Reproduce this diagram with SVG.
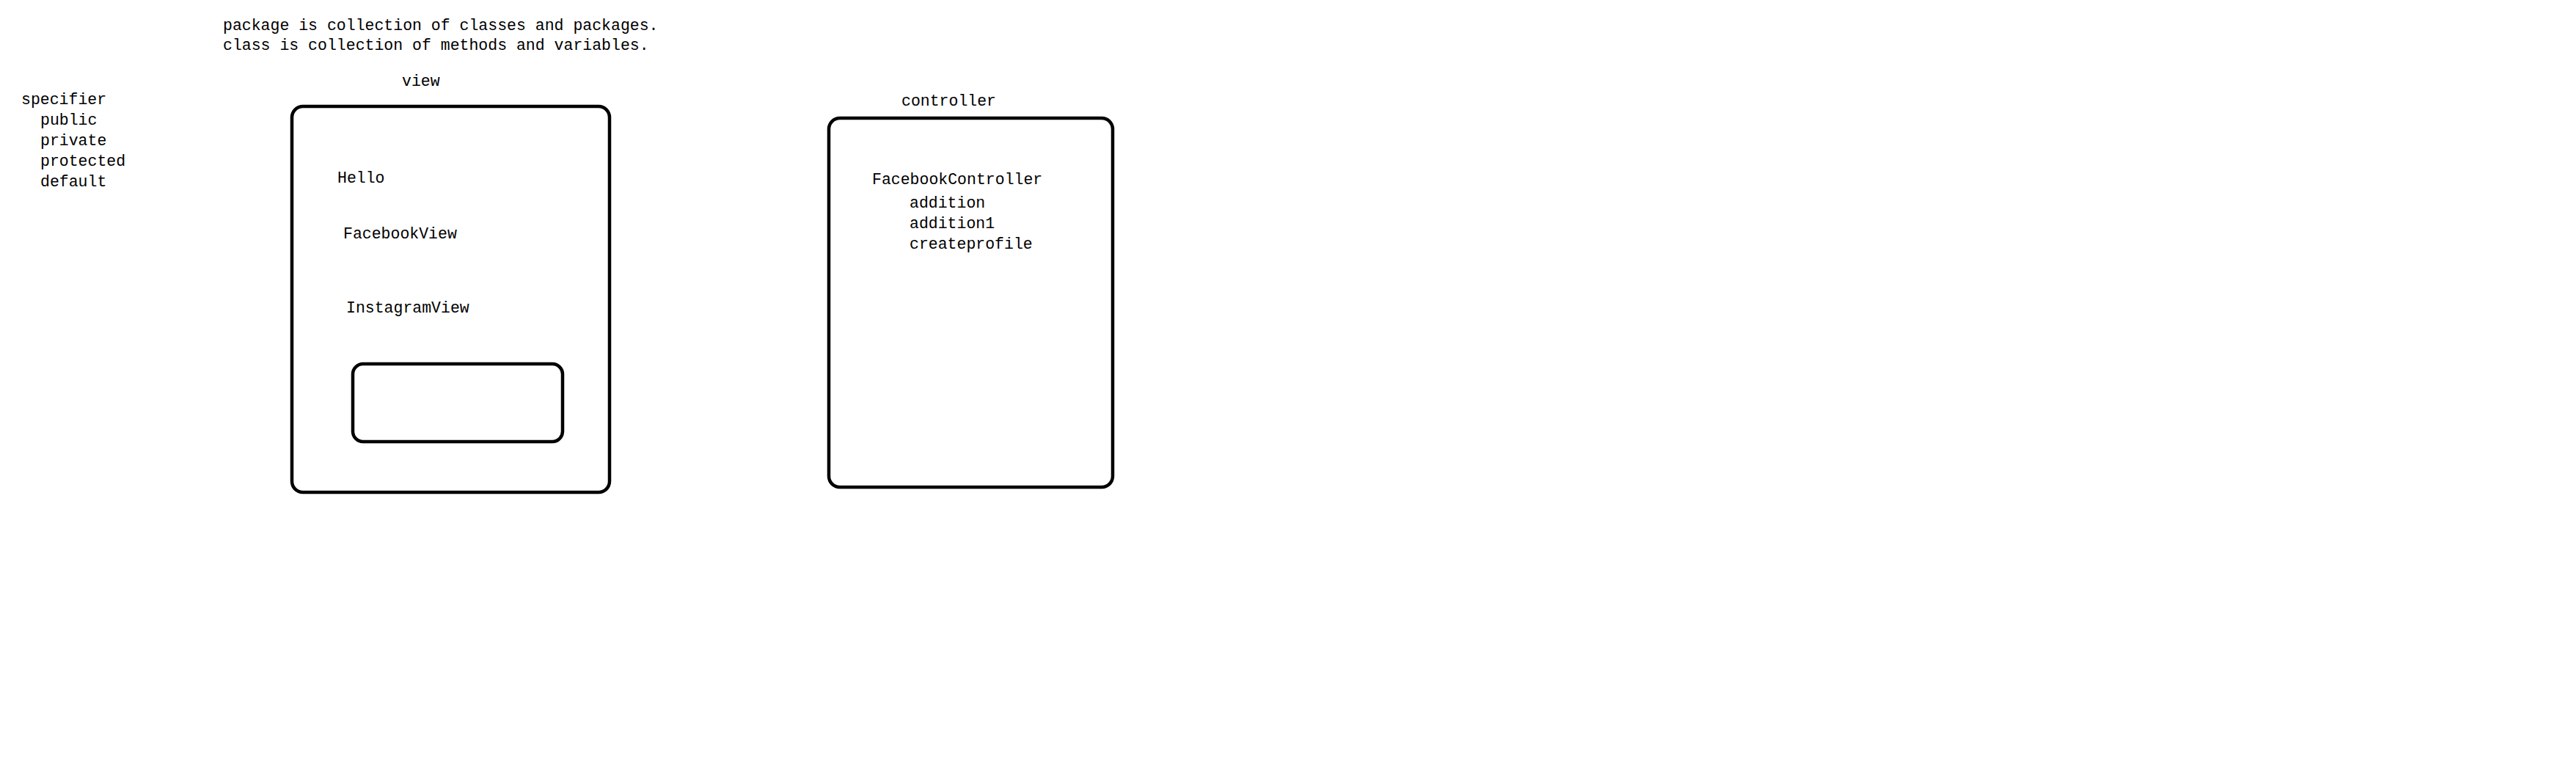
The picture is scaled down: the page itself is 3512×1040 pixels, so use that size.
<svg xmlns="http://www.w3.org/2000/svg" width="3512" height="1040" viewBox="0 0 3512 1040">
<style>
text{font-family:"Liberation Mono","DejaVu Sans Mono",monospace;font-size:21.5px;fill:#000}
.box{fill:none;stroke:#000;stroke-width:4.5}
</style>
<rect width="3512" height="1040" fill="#fff"/>
<g id="notes">
<text x="304" y="41">package is collection of classes and packages.</text>
<text x="304" y="68">class is collection of methods and variables.</text>
</g>
<g id="specifier">
<text x="29" y="142">specifier</text>
<text x="55" y="170">public</text>
<text x="55" y="198">private</text>
<text x="55" y="226">protected</text>
<text x="55" y="254">default</text>
</g>
<g id="view">
<text x="548" y="117">view</text>
<rect class="box" x="398" y="145" width="433" height="526" rx="15"/>
<text x="460" y="249">Hello</text>
<text x="468" y="325">FacebookView</text>
<text x="472" y="426">InstagramView</text>
<rect id="inner" class="box" x="481" y="496" width="286" height="106" rx="14"/>
</g>
<g id="controller">
<text x="1229" y="144">controller</text>
<rect class="box" x="1130" y="161" width="387" height="503" rx="15"/>
<text x="1189" y="251">FacebookController</text>
<text x="1240" y="283">addition</text>
<text x="1240" y="311">addition1</text>
<text x="1240" y="339">createprofile</text>
</g>
<g id="connectors"></g>
</svg>
